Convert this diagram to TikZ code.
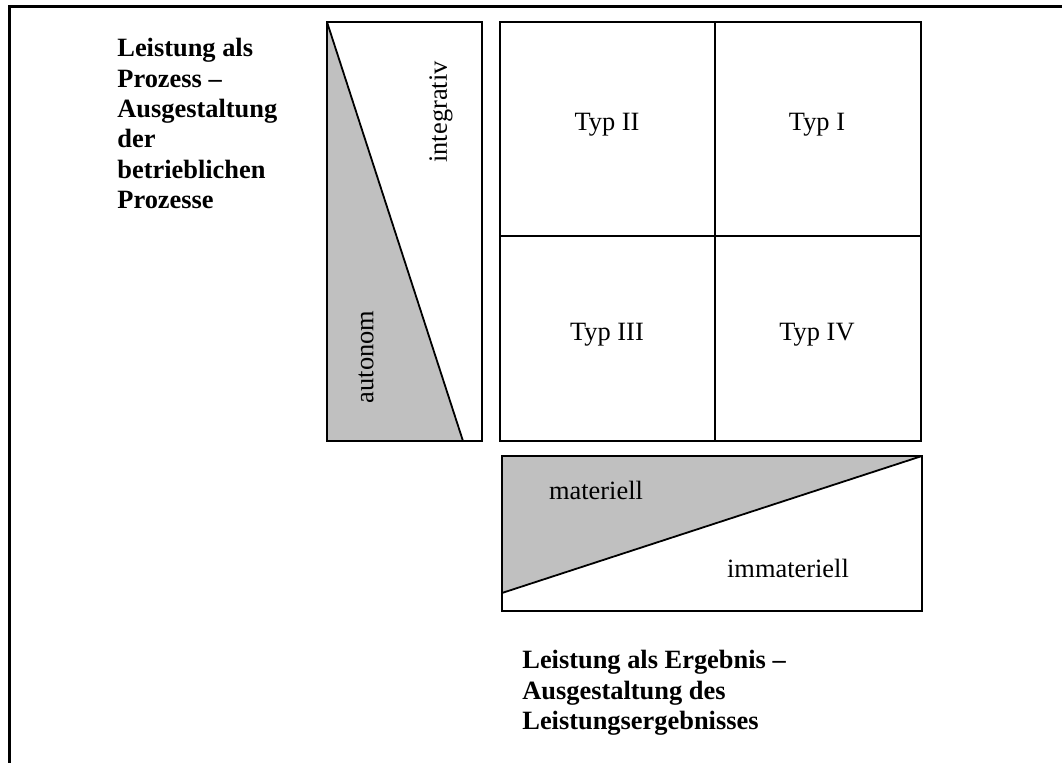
\documentclass[tikz,border=0pt]{standalone}
\usepackage{fontspec}
\setmainfont{Liberation Serif}
\begin{document}
\begin{tikzpicture}[x=0.5pt,y=-0.5pt,
  lbl/.style={font=\fontsize{13.2}{15.2}\selectfont, inner sep=0pt},
  ttl/.style={font=\fontsize{13.2}{15.2}\selectfont\bfseries, align=left, inner sep=0pt, anchor=north west},
  box/.style={draw=black, line width=0.9pt},
  shade/.style={fill={rgb,255:red,192;green,192;blue,192}}]
\useasboundingbox (0,0) rectangle (1062,763);
% outer frame
\draw[line width=1.5pt] (9.5,763) -- (9.5,6.5) -- (1062,6.5);
% left title
\node[ttl] (ptitle) at (117,38) {Leistung als\\Prozess –\\Ausgestaltung\\der\\betrieblichen\\Prozesse};
% left bar
\fill[shade] (327,22) -- (463,441) -- (327,441) -- cycle;
\draw[box] (327,22) rectangle (482,441);
\draw[line width=0.9pt] (327,22) -- (463,441);
\node[lbl, rotate=90] (integ) at (441,112) {integrativ};
\node[lbl, rotate=90] (auton) at (366,357) {autonom};
% grid
\draw[box] (500,22) rectangle (921,441);
\draw[line width=0.9pt] (715,22) -- (715,441);
\draw[line width=0.9pt] (500,236) -- (921,236);
\node[lbl] (t2) at (607,125) {Typ II};
\node[lbl] (t1) at (817,125) {Typ I};
\node[lbl] (t3) at (607,335) {Typ III};
\node[lbl] (t4) at (817,335) {Typ IV};
% bottom bar
\fill[shade] (502,456) -- (922,456) -- (502,593) -- cycle;
\draw[box] (502,456) rectangle (922,611);
\draw[line width=0.9pt] (502,593) -- (922,456);
\node[lbl] (mat) at (596,490) {materiell};
\node[lbl] (imm) at (788,568) {immateriell};
% bottom title
\node[ttl] (etitle) at (522,650) {Leistung als Ergebnis –\\Ausgestaltung des\\Leistungsergebnisses};
\end{tikzpicture}
\end{document}
